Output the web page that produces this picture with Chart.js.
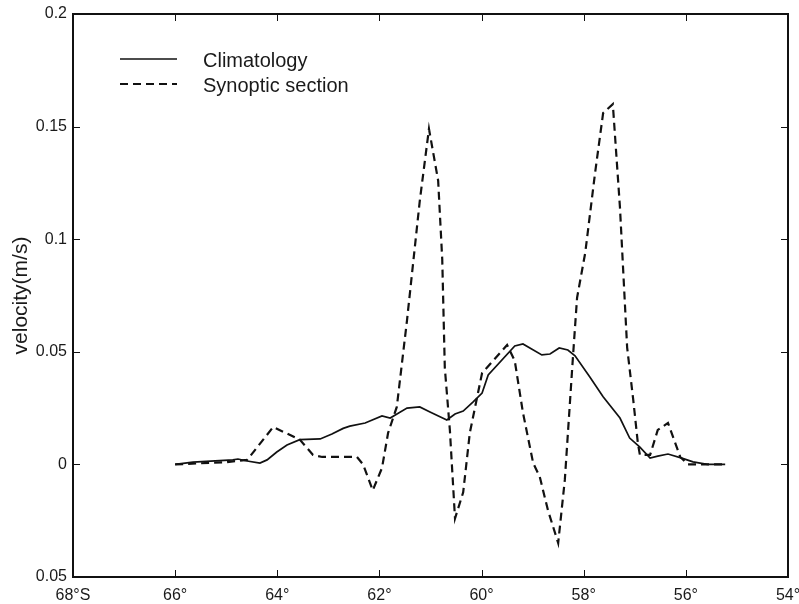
<!DOCTYPE html>
<html>
<head>
<meta charset="utf-8">
<script src="https://cdn.jsdelivr.net/npm/chart.js@4.4.0/dist/chart.umd.min.js"></script>
<style>
  html, body { margin: 0; padding: 0; background: #fff; }
  canvas { display: block; }
</style>
</head>
<body>
<canvas id="velChart" width="799" height="604"></canvas>
<script>
// ------------------------------------
// SECTION DATA (latitude °S, velocity m/s)
// ------------------------------------
const climLat = [66.0, 65.65, 64.87, 64.77, 64.59, 64.34, 64.2, 64.01, 63.81, 63.56, 63.16, 62.93, 62.71, 62.58,
                 62.28, 61.95, 61.79, 61.46, 61.21, 61.01, 60.68, 60.52, 60.36, 60.17, 59.99, 59.87, 59.35, 59.19,
                 58.82, 58.66, 58.48, 58.31, 58.17, 57.88, 57.62, 57.29, 57.1, 56.9, 56.7, 56.55, 56.35, 56.08,
                 55.86, 55.58, 55.23];
const climVel = [0.0, 0.001, 0.002, 0.0024, 0.0015, 0.0006, 0.002, 0.0055, 0.0086, 0.011, 0.0113, 0.0135, 0.016, 0.017,
                 0.0184, 0.0215, 0.0206, 0.025, 0.0255, 0.0233, 0.0197, 0.0224, 0.0237, 0.0277, 0.0317, 0.0397, 0.0526, 0.0535,
                 0.0486, 0.049, 0.0517, 0.0508, 0.0482, 0.0388, 0.030, 0.0206, 0.0117, 0.0077, 0.0028, 0.0037, 0.0046, 0.0028,
                 0.0011, 0.0, 0.0];

const synLat = [66.0, 65.5, 65.0, 64.59, 64.08, 63.56, 63.3, 63.12, 62.44, 62.32, 62.13, 61.95, 61.83, 61.66, 61.46,
                61.21, 61.03, 60.85, 60.77, 60.72, 60.62, 60.52, 60.36, 60.23, 59.99, 59.5, 59.35, 59.19, 58.99, 58.86,
                58.7, 58.5, 58.37, 58.21, 58.13, 57.97, 57.78, 57.62, 57.43, 57.29, 57.15, 57.03, 56.94, 56.9, 56.7,
                56.55, 56.35, 56.11, 55.96, 55.23];
const synVel = [0.0, 0.0005, 0.001, 0.002, 0.0166, 0.011, 0.0042, 0.0033, 0.0033, 0.0, -0.0115, -0.0016, 0.014, 0.0255, 0.064,
                0.117, 0.149, 0.126, 0.091, 0.043, 0.015, -0.024, -0.0124, 0.014, 0.0406, 0.053, 0.046, 0.023, 0.0006, -0.0056,
                -0.0204, -0.0349, -0.0069, 0.048, 0.074, 0.094, 0.129, 0.156, 0.160, 0.114, 0.052, 0.0286, 0.0095, 0.0042, 0.0042,
                0.0153, 0.0184, 0.0033, 0.0, 0.0];

// axis ticks and their printed labels
const xTicks = [68, 66, 64, 62, 60, 58, 56, 54];
const xTickLabels = ["68°S", "66°", "64°", "62°", "60°", "58°", "56°", "54°"];
const yTicks = [-0.05, 0, 0.05, 0.1, 0.15, 0.2];
const yTickLabels = ["0.05", "0", "0.05", "0.1", "0.15", "0.2"];

const seriesNames = ["Climatology", "Synoptic section"];

const FONT = "'Liberation Sans', Arial, Helvetica, sans-serif";
const INK = "#111";

// ------------------------------------
// FRAME + INWARD TICKS + LEGEND
// ------------------------------------
const framePlugin = {
    id: "frame",
    afterDraw(chart) {
        const ctx = chart.ctx;
        const a = chart.chartArea;
        const xs = chart.scales.x;
        const ys = chart.scales.y;

        ctx.save();
        ctx.strokeStyle = INK;
        ctx.lineWidth = 1;
        ctx.setLineDash([]);
        // inward ticks on all four sides
        xTicks.forEach(v => {
            const px = Math.round(xs.getPixelForValue(v)) + 0.5;
            ctx.beginPath();
            ctx.moveTo(px, a.bottom); ctx.lineTo(px, a.bottom - 7);
            ctx.moveTo(px, a.top); ctx.lineTo(px, a.top + 7);
            ctx.stroke();
        });
        yTicks.forEach(v => {
            const py = Math.round(ys.getPixelForValue(v)) + 0.5;
            ctx.beginPath();
            ctx.moveTo(a.left, py); ctx.lineTo(a.left + 7, py);
            ctx.moveTo(a.right, py); ctx.lineTo(a.right - 7, py);
            ctx.stroke();
        });

        // box
        ctx.lineWidth = 2;
        ctx.strokeRect(a.left, a.top, a.right - a.left, a.bottom - a.top);

        // legend
        const lx0 = 120, lx1 = 177, tx = 203;
        const rows = [{ y: 59, dash: [], w: 1.7 }, { y: 84, dash: [8, 5], w: 2.2 }];
        ctx.font = "20px " + FONT;
        ctx.fillStyle = "#1a1a1a";
        ctx.textBaseline = "alphabetic";
        rows.forEach((r, i) => {
            ctx.beginPath();
            ctx.lineWidth = r.w;
            ctx.setLineDash(r.dash);
            ctx.moveTo(lx0, r.y); ctx.lineTo(lx1, r.y);
            ctx.stroke();
            ctx.fillText(seriesNames[i], tx, r.y + 7.5);
        });
        ctx.restore();
    }
};

const ctx = document.getElementById("velChart").getContext("2d");

const velChart = new Chart(ctx, {
    type: "line",
    data: {
        datasets: [{
            label: seriesNames[0],
            data: climLat.map((x, i) => ({ x: x, y: climVel[i] })),
            borderColor: INK,
            borderWidth: 1.7,
            pointRadius: 0,
            tension: 0,
            fill: false
        }, {
            label: seriesNames[1],
            data: synLat.map((x, i) => ({ x: x, y: synVel[i] })),
            borderColor: INK,
            borderWidth: 2.2,
            borderDash: [8, 5],
            pointRadius: 0,
            tension: 0,
            fill: false
        }]
    },
    options: {
        responsive: false,
        animation: false,
        layout: { padding: { top: 14, right: 11, left: 0, bottom: 0 } },
        plugins: {
            legend: { display: false },
            tooltip: { enabled: false }
        },
        scales: {
            x: {
                type: "linear",
                reverse: true,
                min: 54,
                max: 68,
                afterBuildTicks: s => { s.ticks = xTicks.map(v => ({ value: v })); },
                afterFit: s => { s.height = 27; s.paddingLeft = 0; s.paddingRight = 0; },
                grid: { display: false, drawTicks: false },
                border: { display: false },
                ticks: {
                    padding: 9,
                    maxRotation: 0,
                    color: "#1a1a1a",
                    font: { family: FONT, size: 16 },
                    callback: v => xTickLabels[xTicks.indexOf(v)]
                }
            },
            y: {
                type: "linear",
                min: -0.05,
                max: 0.2,
                afterBuildTicks: s => { s.ticks = yTicks.map(v => ({ value: v })); },
                afterFit: s => { s.width = 73; s.paddingTop = 0; s.paddingBottom = 0; },
                grid: { display: false, drawTicks: false },
                border: { display: false },
                title: {
                    display: true,
                    text: "velocity(m/s)",
                    color: "#1a1a1a",
                    font: { family: FONT, size: 21 },
                    padding: { top: 9, bottom: 0 }
                },
                ticks: {
                    padding: 6,
                    color: "#1a1a1a",
                    font: { family: FONT, size: 16 },
                    callback: v => yTickLabels[yTicks.indexOf(v)]
                }
            }
        }
    },
    plugins: [framePlugin]
});
</script>
</body>
</html>
